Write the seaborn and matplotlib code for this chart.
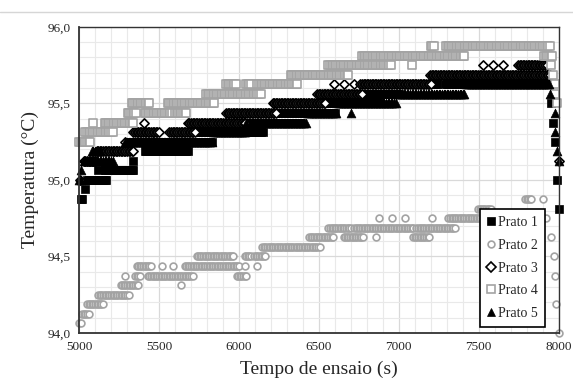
import numpy as np
import pandas as pd
import matplotlib
matplotlib.use("Agg")
import matplotlib.pyplot as plt
import seaborn as sns
from matplotlib.lines import Line2D
from matplotlib.ticker import MultipleLocator, FuncFormatter

# logger interval (s) used to lay the points of each constant-temperature run
STEP = 10

# -----------------------------
# DATA: runs -> level (°C), first time, last time (s)
# -----------------------------
p1_level = [94.875, 94.9375, 95.0, 95.0625, 95.0625, 95.125, 95.1875, 95.25, 95.3125, 95.375,
            95.4375, 95.5, 95.5625, 95.625, 95.625, 95.5, 95.375, 95.25, 95.0, 94.8125]
p1_start = [5010, 5040, 5050, 5120, 5160, 5340, 5410, 5320, 5740, 6000,
            6220, 6500, 6770, 7000, 7290, 7950, 7965, 7980, 7990, 8000]
p1_end = [5020, 5040, 5175, 5120, 5340, 5340, 5680, 5830, 6150, 6390,
          6600, 6880, 7000, 7245, 7945, 7950, 7965, 7980, 7990, 8000]

p2_level = [94.0625, 94.125, 94.1875, 94.25, 94.3125, 94.3125, 94.375, 94.375, 94.375, 94.375,
            94.4375, 94.4375, 94.4375, 94.4375, 94.4375, 94.4375, 94.5, 94.5, 94.5, 94.5625,
            94.625, 94.625, 94.625, 94.625, 94.6875, 94.6875, 94.6875, 94.75, 94.75, 94.75,
            94.75, 94.75, 94.8125, 94.875, 94.875, 94.75, 94.625, 94.5, 94.375, 94.1875, 94.0]
p2_start = [5000, 5020, 5050, 5120, 5260, 5640, 5290, 5350, 5430, 5985,
            5360, 5520, 5590, 5660, 6035, 6110, 5735, 6035, 6095, 6145,
            6440, 6655, 6855, 7090, 6560, 6720, 7110, 6875, 6955, 7040,
            7205, 7310, 7495, 7790, 7900, 7920, 7950, 7970, 7980, 7985, 8000]
p2_end = [5010, 5060, 5150, 5310, 5370, 5640, 5290, 5380, 5710, 6050,
          5455, 5520, 5590, 6000, 6035, 6110, 5970, 6080, 6170, 6510,
          6590, 6780, 6855, 7195, 6700, 7090, 7350, 6875, 6955, 7040,
          7205, 7540, 7575, 7830, 7900, 7920, 7950, 7970, 7980, 7985, 8000]

p3_level = [95.0, 95.125, 95.1875, 95.25, 95.3125, 95.375, 95.25, 95.3125, 95.375, 95.4375,
            95.5, 95.5625, 95.625, 95.625, 95.625, 95.625, 95.6875, 95.75, 95.75, 95.75,
            95.75, 95.625, 95.125]
p3_start = [5005, 5030, 5110, 5290, 5340, 5405, 5460, 5565, 5680, 5920,
            6210, 6490, 6595, 6655, 6720, 6760, 7195, 7525, 7590, 7650,
            7745, 7950, 8000]
p3_end = [5005, 5100, 5340, 5290, 5500, 5405, 5460, 5730, 6045, 6230,
          6545, 6770, 6595, 6655, 6720, 7200, 7945, 7525, 7590, 7650,
          7930, 7950, 8000]

p4_level = [95.25, 95.3125, 95.375, 95.375, 95.4375, 95.4375, 95.4375, 95.5, 95.5, 95.5625,
            95.625, 95.625, 95.625, 95.6875, 95.75, 95.75, 95.8125, 95.8125, 95.875, 95.875,
            95.75, 95.6875, 95.625, 95.5625, 95.5]
p4_start = [5000, 5040, 5090, 5160, 5305, 5410, 5600, 5330, 5555, 5795,
            5920, 6045, 6115, 6325, 6560, 7080, 6770, 7910, 7200, 7295,
            7955, 7965, 7975, 7980, 7990]
p4_end = [5070, 5210, 5090, 5340, 5360, 5580, 5670, 5440, 5845, 6140,
          5985, 6075, 6365, 6690, 6955, 7080, 7415, 7960, 7225, 7945,
          7955, 7965, 7975, 7980, 7990]

p5_level = [95.0, 95.0625, 95.125, 95.1875, 95.25, 95.3125, 95.375, 95.375, 95.4375, 95.4375,
            95.5, 95.5625, 95.625, 95.5625, 95.4375, 95.3125, 95.1875, 95.125]
p5_start = [5000, 5015, 5030, 5080, 5290, 5840, 6045, 6100, 6430, 6700,
            6620, 6990, 7420, 7945, 7975, 7980, 7990, 8000]
p5_end = [5010, 5020, 5210, 5130, 5830, 6040, 6045, 6425, 6610, 6700,
          6980, 7415, 7940, 7945, 7975, 7980, 7990, 8000]

labels = ["Prato 1", "Prato 2", "Prato 3", "Prato 4", "Prato 5"]


def expand(level, start, end):
    t, temp = [], []
    for lv, a, b in zip(level, start, end):
        ts = np.arange(a, b + 1, STEP)
        t.extend(ts)
        temp.extend([lv] * len(ts))
    return pd.DataFrame({"Tempo": t, "Temperatura": temp})


series = [expand(p1_level, p1_start, p1_end),
          expand(p2_level, p2_start, p2_end),
          expand(p3_level, p3_start, p3_end),
          expand(p4_level, p4_start, p4_end),
          expand(p5_level, p5_start, p5_end)]

# marker, size, face, edge, edge width
styles = [("s", 32, "black", "black", 0.5),
          ("o", 24, "white", "#a3a3a3", 1.2),
          ("D", 22, "white", "black", 1.2),
          ("s", 26, "white", "#a3a3a3", 1.2),
          ("^", 40, "black", "black", 0.5)]

# -----------------------------
# PLOT
# -----------------------------
sns.set_style("white")
plt.rcParams["font.family"] = ["Liberation Serif", "DejaVu Serif"]

fig = plt.figure(figsize=(5.73, 3.78), dpi=100)
ax = fig.add_axes([0.138, 0.119, 0.837, 0.81])

for df, lab, (m, s, fc, ec, lw) in zip(series, labels, styles):
    sns.scatterplot(data=df, x="Tempo", y="Temperatura", marker=m, s=s,
                    color=fc, edgecolor=ec, linewidth=lw, label=lab,
                    clip_on=False, ax=ax, legend=False)

ax.set_xlim(5000, 8000)
ax.set_ylim(94.0, 96.0)
ax.xaxis.set_major_locator(MultipleLocator(500))
ax.xaxis.set_minor_locator(MultipleLocator(100))
ax.yaxis.set_major_locator(MultipleLocator(0.5))
ax.yaxis.set_minor_locator(MultipleLocator(0.1))
ax.yaxis.set_major_formatter(FuncFormatter(lambda v, p: f"{v:.1f}".replace(".", ",")))
ax.grid(which="major", color="#d9d9d9", linewidth=0.9, zorder=0)
ax.grid(which="minor", color="#e9e9e9", linewidth=0.8, zorder=0)
ax.set_axisbelow(True)

for side in ["left", "bottom"]:
    ax.spines[side].set_color("#333333")
    ax.spines[side].set_linewidth(1.3)
for side in ["top", "right"]:
    ax.spines[side].set_color("#333333")
    ax.spines[side].set_linewidth(1.0)

ax.tick_params(which="major", direction="inout", length=6, width=1, color="#333333",
               labelsize=9.5, pad=3)
ax.tick_params(which="minor", length=0)
ax.set_xlabel("Tempo de ensaio (s)", fontsize=14, labelpad=5)
ax.set_ylabel("Temperatura (°C)", fontsize=14, labelpad=6)

handles = [Line2D([], [], linestyle="none", marker=m, markersize=np.sqrt(s),
                  markerfacecolor=fc, markeredgecolor=ec, markeredgewidth=lw)
           for (m, s, fc, ec, lw) in styles]
leg = ax.legend(handles, labels, loc="lower right", bbox_to_anchor=(0.972, 0.02),
                borderaxespad=0, frameon=True, fancybox=False, framealpha=1,
                edgecolor="black", fontsize=10, labelspacing=0.7,
                handlelength=0.6, handletextpad=0.2, borderpad=0.5)
leg.get_frame().set_linewidth(1.2)

# thin separator line at the top of the picture
fig.add_artist(Line2D([0, 1], [0.968, 0.968], color="#d6d6d6", linewidth=1))

fig.savefig("out.png", dpi=100)
